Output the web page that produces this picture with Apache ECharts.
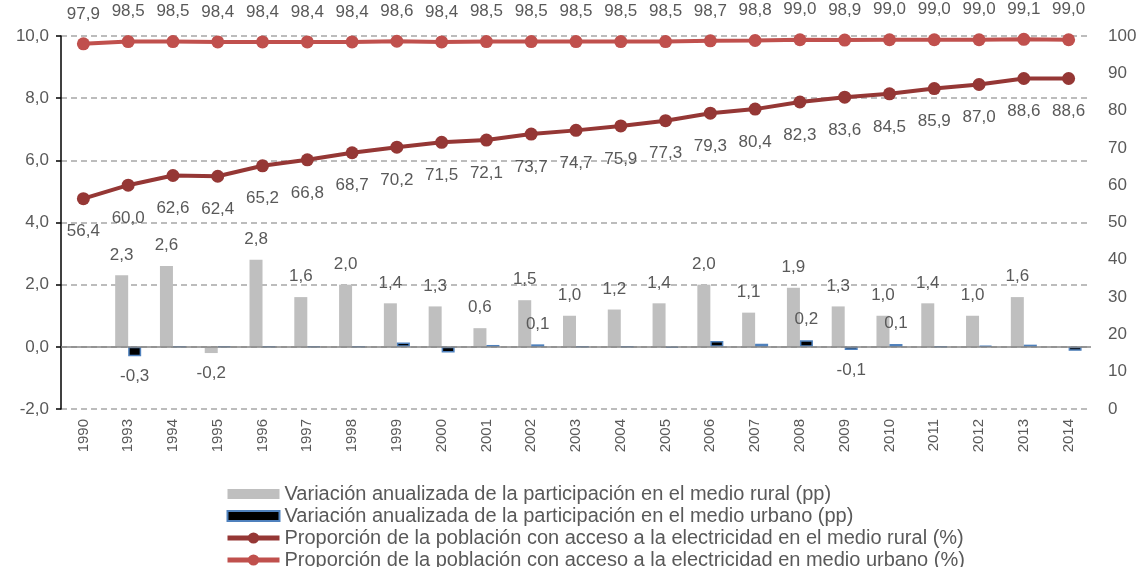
<!DOCTYPE html>
<html>
<head>
<meta charset="utf-8">
<script src="https://cdn.jsdelivr.net/npm/echarts@6/dist/echarts.min.js"></script>
<style>
  html, body { margin: 0; padding: 0; background: #fff; }
  #chart { width: 1140px; height: 567px; }
</style>
</head>
<body>
<div id="chart"></div>
<script>
const years = ['1990', '1993', '1994', '1995', '1996', '1997', '1998', '1999', '2000', '2001', '2002',
  '2003', '2004', '2005', '2006', '2007', '2008', '2009', '2010', '2011', '2012', '2013', '2014']

// variación anualizada (pp), eje izquierdo
const ruralVar = [null, 2.3, 2.6, -0.2, 2.8, 1.6, 2.0, 1.4, 1.3, 0.6, 1.5,
  1.0, 1.2, 1.4, 2.0, 1.1, 1.9, 1.3, 1.0, 1.4, 1.0, 1.6, null]
const urbanVar = [null, -0.3, 0.01, 0.01, 0.01, 0.01, 0.01, 0.14, -0.18, 0.06, 0.08,
  0.01, 0.01, -0.03, 0.19, 0.1, 0.21, -0.1, 0.09, 0.01, 0.03, 0.07, -0.13]
// años con etiqueta en la serie urbana
const urbanLabelled = ['1993', '2002', '2008', '2009', '2010']

// proporción con acceso (%), eje derecho
const ruralAccess = [56.4, 60.0, 62.6, 62.4, 65.2, 66.8, 68.7, 70.2, 71.5, 72.1, 73.7,
  74.7, 75.9, 77.3, 79.3, 80.4, 82.3, 83.6, 84.5, 85.9, 87.0, 88.6, 88.6]
const urbanAccess = [97.9, 98.5, 98.5, 98.4, 98.4, 98.4, 98.4, 98.6, 98.4, 98.5, 98.5,
  98.5, 98.5, 98.5, 98.7, 98.8, 99.0, 98.9, 99.0, 99.0, 99.0, 99.1, 99.0]

const names = [
  'Variación anualizada de la participación en el medio rural (pp)',
  'Variación anualizada de la participación en el medio urbano (pp)',
  'Proporción de la población con acceso a la electricidad en el medio rural (%)',
  'Proporción de la población con acceso a la electricidad en medio urbano (%)'
]

const FONT = '"Liberation Sans", Arial, sans-serif'
const TXT = '#595959'
const fmt = v => v.toFixed(1).replace('.', ',')
const barIcon = 'path://M0,0h52v10h-52z'

const chart = echarts.init(document.getElementById('chart'))

const ruralBarData = ruralVar.map(v => v == null ? null : {
  value: v,
  label: { show: true, position: v < 0 ? 'bottom' : 'top' }
})
const urbanBarData = urbanVar.map((v, i) => v == null ? null : {
  value: v,
  label: { show: urbanLabelled.includes(years[i]), position: v < 0 ? 'bottom' : 'top' }
})

const barLabel = {
  distance: 12,
  color: TXT,
  fontSize: 17,
  fontFamily: FONT,
  formatter: p => fmt(p.value)
}

chart.setOption({
  animation: false,
  textStyle: { fontFamily: FONT },
  grid: { left: 61, right: 49, top: 36, bottom: 158 },
  legend: {
    orient: 'vertical',
    left: 225,
    top: 483,
    padding: 0,
    height: 120,
    itemWidth: 52,
    itemHeight: 14,
    itemGap: 0,
    lineStyle: { width: 5 },
    textStyle: { color: TXT, fontSize: 20, lineHeight: 22, fontFamily: FONT },
    data: [
      { name: names[0], icon: barIcon },
      { name: names[1], icon: barIcon },
      { name: names[2] },
      { name: names[3] }
    ]
  },
  xAxis: {
    type: 'category',
    data: years,
    axisLine: { show: false, onZero: false },
    axisTick: { show: false },
    axisLabel: { rotate: 90, color: TXT, fontSize: 15, fontFamily: FONT, margin: 10 }
  },
  yAxis: [
    {
      type: 'value',
      min: -2,
      max: 10,
      interval: 2,
      axisLine: { show: true, lineStyle: { color: '#000', width: 1.5 } },
      axisTick: { show: true, length: 5, lineStyle: { color: '#000', width: 1.5 } },
      axisLabel: { color: TXT, fontSize: 17, fontFamily: FONT, margin: 12, formatter: v => fmt(v) },
      splitLine: { show: true, lineStyle: { color: '#A6A6A6', type: [6, 4], width: 1.5 } }
    },
    {
      type: 'value',
      min: 0,
      max: 100,
      interval: 10,
      axisLine: { show: false },
      axisTick: { show: false },
      axisLabel: { color: TXT, fontSize: 17, fontFamily: FONT, margin: 17 },
      splitLine: { show: false }
    }
  ],
  series: [
    {
      name: names[0],
      type: 'bar',
      yAxisIndex: 0,
      barWidth: 13,
      barGap: '0%',
      itemStyle: { color: '#BFBFBF' },
      label: barLabel,
      data: ruralBarData,
      markLine: {
        silent: true,
        symbol: 'none',
        label: { show: false },
        lineStyle: { color: '#868686', type: 'solid', width: 1.5 },
        data: [{ yAxis: 0 }]
      }
    },
    {
      name: names[1],
      type: 'bar',
      yAxisIndex: 0,
      barWidth: 13,
      barGap: '0%',
      itemStyle: { color: '#000', borderColor: '#4F81BD', borderWidth: 1.5 },
      label: barLabel,
      data: urbanBarData
    },
    {
      name: names[2],
      type: 'line',
      yAxisIndex: 1,
      symbol: 'circle',
      symbolSize: 13,
      itemStyle: { color: '#953735' },
      lineStyle: { color: '#953735', width: 4 },
      label: { show: true, position: 'bottom', distance: 18, color: TXT, fontSize: 17, fontFamily: FONT, formatter: p => fmt(p.value) },
      data: ruralAccess,
      z: 5
    },
    {
      name: names[3],
      type: 'line',
      yAxisIndex: 1,
      symbol: 'circle',
      symbolSize: 13,
      itemStyle: { color: '#C0504D' },
      lineStyle: { color: '#C0504D', width: 4 },
      label: { show: true, position: 'top', distance: 15, color: TXT, fontSize: 17, fontFamily: FONT, formatter: p => fmt(p.value) },
      data: urbanAccess,
      z: 5
    }
  ]
})
</script>
</body>
</html>
